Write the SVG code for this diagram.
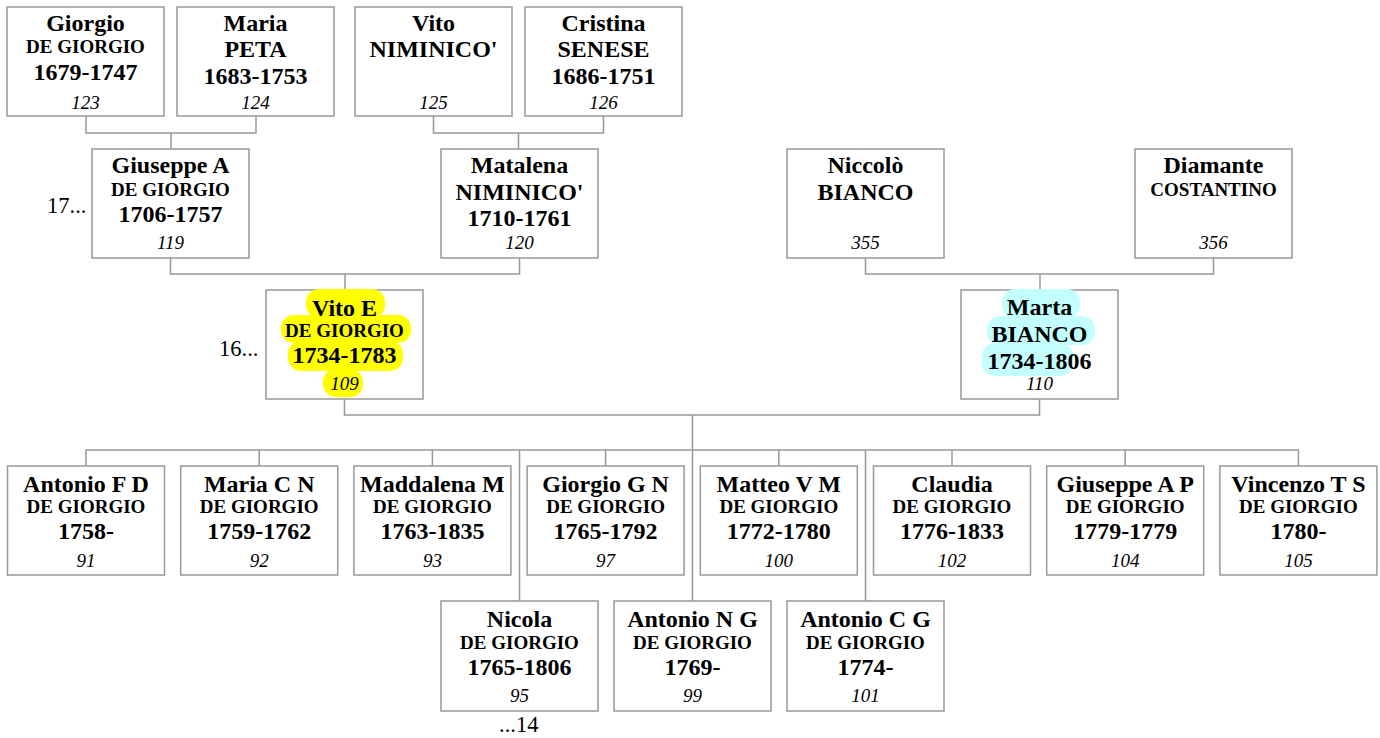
<svg xmlns="http://www.w3.org/2000/svg" width="1380" height="738" viewBox="0 0 1380 738">
<style>
.box{fill:#fff;stroke:#999;stroke-width:1.5}
.c{fill:none;stroke:#999;stroke-width:1.5}
text{font-family:"Liberation Serif","Times New Roman",serif;text-anchor:middle;fill:#000}
.n{font-size:24px;font-weight:bold}
.s{font-size:19px;font-weight:bold}
.d{font-size:24px;font-weight:bold}
.i{font-size:19px;font-style:italic}
.l{font-size:22.5px;text-anchor:start}
.hy{fill:#ffff00}
.hc{fill:#c4ffff}
</style>
<rect width="1380" height="738" fill="#fff"/>
<g id="connectors">
<path class="c" d="M86,116V133H256V116M171,133V149"/>
<path class="c" d="M433.5,116V133H603.5V116M518.5,133V149"/>
<path class="c" d="M170.5,258V274H519.5V258M345,274V290"/>
<path class="c" d="M865.5,258V274H1213.5V258M1040,274V290"/>
<path class="c" d="M344.5,399V415H1039.5V399M692.5,415V601"/>
<path class="c" d="M86,466V450H1298.4V466M259.2,450V466M432.4,450V466M605.6,450V466M778.8,450V466M952,450V466M1125.2,450V466M519.5,450V601M865.5,450V601"/>
</g>
<text class="l" x="47" y="213">17...</text>
<text class="l" x="219" y="356">16...</text>
<text class="l" x="499" y="732">...14</text>
<g id="p123"><rect class="box" x="7" y="7" width="157" height="109"/>
<text class="n" x="85.5" y="30.5">Giorgio</text><text class="s" x="85.5" y="53">DE GIORGIO</text><text class="d" x="85.5" y="79.5">1679-1747</text><text class="i" x="85.5" y="109">123</text></g>
<g id="p124"><rect class="box" x="177" y="7" width="157" height="109"/>
<text class="n" x="255.5" y="30.5">Maria</text><text class="n" x="255.5" y="57">PETA</text><text class="d" x="255.5" y="84">1683-1753</text><text class="i" x="255.5" y="109">124</text></g>
<g id="p125"><rect class="box" x="355" y="7" width="157" height="109"/>
<text class="n" x="433.5" y="30.5">Vito</text><text class="n" x="433.5" y="57">NIMINICO'</text><text class="i" x="433.5" y="109">125</text></g>
<g id="p126"><rect class="box" x="525" y="7" width="157" height="109"/>
<text class="n" x="603.5" y="30.5">Cristina</text><text class="n" x="603.5" y="57">SENESE</text><text class="d" x="603.5" y="84">1686-1751</text><text class="i" x="603.5" y="109">126</text></g>
<g id="p119"><rect class="box" x="92" y="149" width="157" height="109"/>
<text class="n" x="170.5" y="173">Giuseppe A</text><text class="s" x="170.5" y="196">DE GIORGIO</text><text class="d" x="170.5" y="221.5">1706-1757</text><text class="i" x="170.5" y="249">119</text></g>
<g id="p120"><rect class="box" x="441" y="149" width="157" height="109"/>
<text class="n" x="519.5" y="173">Matalena</text><text class="n" x="519.5" y="200">NIMINICO'</text><text class="d" x="519.5" y="226">1710-1761</text><text class="i" x="519.5" y="249">120</text></g>
<g id="p355"><rect class="box" x="787" y="149" width="157" height="109"/>
<text class="n" x="865.5" y="173">Niccolò</text><text class="n" x="865.5" y="200">BIANCO</text><text class="i" x="865.5" y="249">355</text></g>
<g id="p356"><rect class="box" x="1135" y="149" width="157" height="109"/>
<text class="n" x="1213.5" y="173">Diamante</text><text class="s" x="1213.5" y="196">COSTANTINO</text><text class="i" x="1213.5" y="249">356</text></g>
<g id="p109"><rect class="box" x="266" y="290" width="157" height="109"/>
<rect class="hy" x="306" y="289" width="79" height="29" rx="13"/>
<rect class="hy" x="281" y="315" width="130" height="28" rx="13"/>
<rect class="hy" x="288" y="341" width="115" height="30" rx="13"/>
<rect class="hy" x="323" y="369" width="40" height="28" rx="13"/>
<text class="n" x="344.5" y="315.5">Vito E</text><text class="s" x="344.5" y="337">DE GIORGIO</text><text class="d" x="344.5" y="363">1734-1783</text><text class="i" x="344.5" y="390">109</text></g>
<g id="p110"><rect class="box" x="961" y="290" width="157" height="109"/>
<rect class="hc" x="1002" y="289" width="78" height="29" rx="13"/>
<rect class="hc" x="987" y="316" width="108" height="29" rx="13"/>
<rect class="hc" x="982" y="343" width="91" height="33" rx="13"/>
<text class="n" x="1039.5" y="315">Marta</text><text class="n" x="1039.5" y="342">BIANCO</text><text class="d" x="1039.5" y="369">1734-1806</text><text class="i" x="1039.5" y="390">110</text></g>
<g id="p91"><rect class="box" x="7.5" y="466" width="157" height="109"/>
<text class="n" x="86" y="492">Antonio F D</text><text class="s" x="86" y="513">DE GIORGIO</text><text class="d" x="86" y="538.5">1758-</text><text class="i" x="86" y="567">91</text></g>
<g id="p92"><rect class="box" x="180.7" y="466" width="157" height="109"/>
<text class="n" x="259.2" y="492">Maria C N</text><text class="s" x="259.2" y="513">DE GIORGIO</text><text class="d" x="259.2" y="538.5">1759-1762</text><text class="i" x="259.2" y="567">92</text></g>
<g id="p93"><rect class="box" x="353.9" y="466" width="157" height="109"/>
<text class="n" x="432.4" y="492">Maddalena M</text><text class="s" x="432.4" y="513">DE GIORGIO</text><text class="d" x="432.4" y="538.5">1763-1835</text><text class="i" x="432.4" y="567">93</text></g>
<g id="p97"><rect class="box" x="527.1" y="466" width="157" height="109"/>
<text class="n" x="605.6" y="492">Giorgio G N</text><text class="s" x="605.6" y="513">DE GIORGIO</text><text class="d" x="605.6" y="538.5">1765-1792</text><text class="i" x="605.6" y="567">97</text></g>
<g id="p100"><rect class="box" x="700.3" y="466" width="157" height="109"/>
<text class="n" x="778.8" y="492">Matteo V M</text><text class="s" x="778.8" y="513">DE GIORGIO</text><text class="d" x="778.8" y="538.5">1772-1780</text><text class="i" x="778.8" y="567">100</text></g>
<g id="p102"><rect class="box" x="873.5" y="466" width="157" height="109"/>
<text class="n" x="952" y="492">Claudia</text><text class="s" x="952" y="513">DE GIORGIO</text><text class="d" x="952" y="538.5">1776-1833</text><text class="i" x="952" y="567">102</text></g>
<g id="p104"><rect class="box" x="1046.7" y="466" width="157" height="109"/>
<text class="n" x="1125.2" y="492">Giuseppe A P</text><text class="s" x="1125.2" y="513">DE GIORGIO</text><text class="d" x="1125.2" y="538.5">1779-1779</text><text class="i" x="1125.2" y="567">104</text></g>
<g id="p105"><rect class="box" x="1219.9" y="466" width="157" height="109"/>
<text class="n" x="1298.4" y="492">Vincenzo T S</text><text class="s" x="1298.4" y="513">DE GIORGIO</text><text class="d" x="1298.4" y="538.5">1780-</text><text class="i" x="1298.4" y="567">105</text></g>
<g id="p95"><rect class="box" x="441" y="601" width="157" height="110"/>
<text class="n" x="519.5" y="627">Nicola</text><text class="s" x="519.5" y="649">DE GIORGIO</text><text class="d" x="519.5" y="675">1765-1806</text><text class="i" x="519.5" y="702">95</text></g>
<g id="p99"><rect class="box" x="614" y="601" width="157" height="110"/>
<text class="n" x="692.5" y="627">Antonio N G</text><text class="s" x="692.5" y="649">DE GIORGIO</text><text class="d" x="692.5" y="675">1769-</text><text class="i" x="692.5" y="702">99</text></g>
<g id="p101"><rect class="box" x="787" y="601" width="157" height="110"/>
<text class="n" x="865.5" y="627">Antonio C G</text><text class="s" x="865.5" y="649">DE GIORGIO</text><text class="d" x="865.5" y="675">1774-</text><text class="i" x="865.5" y="702">101</text></g>
</svg>
